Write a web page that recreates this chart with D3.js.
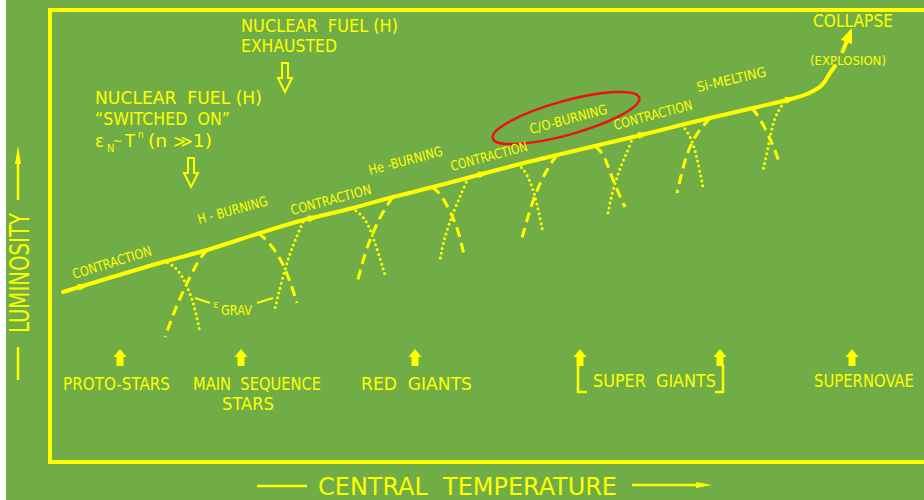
<!DOCTYPE html>
<html>
<head>
<meta charset="utf-8">
<script src="https://cdn.jsdelivr.net/npm/d3@7"></script>
<style>
  html, body { margin: 0; padding: 0; background: #fff; }
  svg { display: block; }
  text { font-family: "DejaVu Sans Condensed", "DejaVu Sans", sans-serif; fill: #ffff00; white-space: pre; }
</style>
</head>
<body>
<div id="chart"></div>
<script>
// diagram units: t = central temperature (left -> right), L = luminosity (bottom -> top)
const mainTrack = [
  [13, 170], [113, 200], [157, 212], [210, 229], [250, 241], [303, 254],
  [343, 265], [383, 275], [417, 284], [470, 298], [507, 307], [547, 316.5],
  [583, 325], [633, 337.5], [660, 344], [703, 354], [737, 362], [757, 368],
  [772, 377], [780, 389], [785, 396]
];
const collapseArrow = [[792, 409], [802, 434]];
const flowArrowsAt = [40, 270, 440, 600, 747];

// energy generation curves hanging below the track
const nuclearCurves = [ // dashed
  [[157, 212], [150, 204], [143, 191], [135, 175], [126, 155], [115, 125]],
  [[208, 229], [217, 222], [227, 209], [235, 194], [242, 175], [247, 159]],
  [[343, 265], [337, 257], [329, 243], [322, 227], [315, 209], [307, 179]],
  [[382, 275], [390, 269], [398, 255], [405, 240], [410, 225], [414, 207]],
  [[507, 307], [499, 296], [491, 281], [483, 262], [477, 242], [472, 224]],
  [[545, 316], [553, 309], [558, 296], [563, 282], [568, 270], [575, 255]],
  [[660, 344], [653, 336], [646, 327], [640, 316], [634, 299], [627, 269]],
  [[702, 354], [709, 345], [716, 332], [722, 319], [726, 309], [730, 297]]
];
const gravCurves = [ // dotted
  [[113, 201], [123, 197], [132, 187], [137, 175], [143, 162], [150, 130]],
  [[253, 240], [246, 224], [239, 206], [232, 182], [225, 154]],
  [[302, 254], [312, 247], [319, 236], [324, 222], [330, 204], [335, 187]],
  [[418, 284], [412, 270], [405, 254], [398, 235], [393, 219], [390, 202]],
  [[468, 298], [476, 290], [482, 276], [487, 259], [493, 229]],
  [[583, 325], [578, 312], [572, 299], [567, 285], [562, 269], [558, 249]],
  [[632, 337], [640, 327], [645, 312], [649, 295], [653, 275]],
  [[734, 360], [728, 351], [723, 339], [720, 325], [717, 309], [713, 292]]
];

const phaseNames = ["CONTRACTION", "H - BURNING", "CONTRACTION", "He -BURNING",
  "CONTRACTION", "C/O-BURNING", "CONTRACTION", "Si-MELTING"];
const stageNames = ["PROTO-STARS", "MAIN  SEQUENCE", "STARS", "RED  GIANTS", "SUPER  GIANTS", "SUPERNOVAE"];
const stageArrowsAt = [70, 191, 365, 530, 670, 802];

// layout of the labels (diagram units), kept apart from the values above
const phaseLayout = [
  { t: 24, L: 183, w: 82, a: -17 }, { t: 149, L: 238, w: 72, a: -15 },
  { t: 242, L: 247, w: 83, a: -15 }, { t: 320, L: 287, w: 76, a: -15 },
  { t: 402, L: 291, w: 79, a: -15 }, { t: 481, L: 328, w: 80, a: -15 },
  { t: 565, L: 332, w: 81, a: -15 }, { t: 648, L: 370, w: 71, a: -13 }
];
const stageLayout = [
  { t: 13, L: 72, w: 107 }, { t: 143, L: 72, w: 128 }, { t: 172, L: 52, w: 52 },
  { t: 311, L: 72, w: 111 }, { t: 543, L: 75, w: 123 }, { t: 764, L: 75, w: 100 }
];

const W = 924, H = 500;
const YELLOW = "#ffff00";
const x = d3.scaleLinear().domain([0, 874]).range([50, 924]);
const y = d3.scaleLinear().domain([0, 452]).range([462, 10]);

const svg = d3.select("#chart").append("svg").attr("width", W).attr("height", H);
svg.append("rect").attr("x", 6).attr("y", 0).attr("width", W - 6).attr("height", H).attr("fill", "#70ad47");

// frame
svg.append("path")
  .attr("d", d3.line()([[x(874), y(452)], [x(0), y(452)], [x(0), y(0)], [x(874), y(0)]]))
  .attr("fill", "none").attr("stroke", YELLOW).attr("stroke-width", 4);

const line = d3.line().x(d => x(d[0])).y(d => y(d[1]));

// evolutionary track
svg.append("path")
  .attr("d", line.curve(d3.curveCatmullRom.alpha(0.5))(mainTrack))
  .attr("fill", "none").attr("stroke", YELLOW).attr("stroke-width", 4).attr("stroke-linecap", "round");

const curveLine = d3.line().x(d => x(d[0])).y(d => y(d[1])).curve(d3.curveBasis);
svg.append("g").selectAll("path").data(nuclearCurves).join("path")
  .attr("d", curveLine).attr("fill", "none").attr("stroke", YELLOW)
  .attr("stroke-width", 3).attr("stroke-dasharray", "10,6");
svg.append("g").selectAll("path").data(gravCurves).join("path")
  .attr("d", curveLine).attr("fill", "none").attr("stroke", YELLOW)
  .attr("stroke-width", 3).attr("stroke-dasharray", "0,5").attr("stroke-linecap", "round");

// track value at t
function trackAt(t) {
  const i = Math.max(1, d3.bisector(d => d[0]).left(mainTrack, t));
  const a = mainTrack[i - 1], b = mainTrack[i];
  const k = (t - a[0]) / (b[0] - a[0]);
  return [t, a[1] + k * (b[1] - a[1]), a, b];
}

function arrowHead(tip, ang, len, half) {
  const c = Math.cos(ang), s = Math.sin(ang);
  return [tip, [tip[0] - len * c - half * s, tip[1] - len * s + half * c],
    [tip[0] - len * c + half * s, tip[1] - len * s - half * c]];
}

// flow arrows along the track
svg.append("g").selectAll("path").data(flowArrowsAt).join("path")
  .attr("d", t => {
    const [tt, L, a, b] = trackAt(t);
    const ang = Math.atan2(y(b[1]) - y(a[1]), x(b[0]) - x(a[0]));
    return d3.line()(arrowHead([x(tt), y(L)], ang, 12, 3.5)) + "Z";
  })
  .attr("fill", YELLOW);

// collapse arrow
{
  const p0 = [x(collapseArrow[0][0]), y(collapseArrow[0][1])];
  const p1 = [x(collapseArrow[1][0]), y(collapseArrow[1][1])];
  const ang = Math.atan2(p1[1] - p0[1], p1[0] - p0[0]);
  svg.append("line").attr("x1", p0[0]).attr("y1", p0[1])
    .attr("x2", p1[0] - 8 * Math.cos(ang)).attr("y2", p1[1] - 8 * Math.sin(ang))
    .attr("stroke", YELLOW).attr("stroke-width", 4);
  svg.append("path").attr("d", d3.line()(arrowHead(p1, ang, 15, 6)) + "Z").attr("fill", YELLOW);
}

// red highlight ellipse around C/O-burning
svg.append("ellipse")
  .attr("transform", `translate(${x(516)},${y(344)}) rotate(-15.5)`)
  .attr("rx", x(592) - x(516)).attr("ry", 17)
  .attr("fill", "none").attr("stroke", "#ee1111").attr("stroke-width", 2.5);

// phase labels along the track
svg.append("g").selectAll("text").data(phaseNames).join("text")
  .attr("transform", (d, i) => `translate(${x(phaseLayout[i].t)},${y(phaseLayout[i].L)}) rotate(${phaseLayout[i].a})`)
  .attr("font-size", 13.5)
  .attr("textLength", (d, i) => phaseLayout[i].w).attr("lengthAdjust", "spacingAndGlyphs")
  .text(d => d);

// epsilon grav
svg.append("text").attr("x", x(163)).attr("y", y(154)).attr("font-size", 11).text("ε");
svg.append("text").attr("x", x(171)).attr("y", y(147)).attr("font-size", 13.5)
  .attr("textLength", 31).attr("lengthAdjust", "spacingAndGlyphs").text("GRAV");
svg.append("g").selectAll("line").data([[[145, 164], [160, 159]], [[207, 159], [223, 164]]]).join("line")
  .attr("x1", d => x(d[0][0])).attr("y1", d => y(d[0][1]))
  .attr("x2", d => x(d[1][0])).attr("y2", d => y(d[1][1]))
  .attr("stroke", YELLOW).attr("stroke-width", 2);

// top annotations
function label(t, L, str, size, w) {
  const el = svg.append("text").attr("x", x(t)).attr("y", y(L)).attr("font-size", size).text(str);
  if (w) el.attr("textLength", w).attr("lengthAdjust", "spacingAndGlyphs");
  return el;
}
label(191, 430, "NUCLEAR  FUEL (H)", 17.5, 157);
label(191, 410, "EXHAUSTED", 17.5, 96);
label(45, 358, "NUCLEAR  FUEL (H)", 17.5, 167);
label(45, 337, "“SWITCHED  ON”", 17.5, 135);
label(45, 315, "ε", 18);
label(57, 310, "N", 11);
label(63, 317, "~", 13);
label(75, 315, "T", 18);
label(88, 324, "n", 10);
label(98, 315, "(n ≫1)", 17, 64);
label(763, 435, "COLLAPSE", 17, 80);
label(760, 397, "(EXPLOSION)", 11.5, 76);

// hollow down arrows
function hollowArrow(t, top, tip) {
  const cx = x(t), y0 = y(top), y1 = y(tip), hh = 14;
  const pts = [[cx - 3, y0], [cx + 3, y0], [cx + 3, y1 - hh], [cx + 7, y1 - hh], [cx, y1],
    [cx - 7, y1 - hh], [cx - 3, y1 - hh]];
  svg.append("path").attr("d", d3.line()(pts) + "Z")
    .attr("fill", "none").attr("stroke", YELLOW).attr("stroke-width", 2);
}
hollowArrow(235, 399, 370);
hollowArrow(141, 304, 275);

// stage arrows and labels
svg.append("g").selectAll("path").data(stageArrowsAt).join("path")
  .attr("d", t => {
    const cx = x(t), tip = y(113), base = y(96);
    return d3.line()([[cx, tip], [cx + 6.5, tip + 8], [cx + 3.5, tip + 8], [cx + 3.5, base],
      [cx - 3.5, base], [cx - 3.5, tip + 8], [cx - 6.5, tip + 8]]) + "Z";
  })
  .attr("fill", YELLOW);

svg.append("g").selectAll("text").data(stageNames).join("text")
  .attr("x", (d, i) => x(stageLayout[i].t)).attr("y", (d, i) => y(stageLayout[i].L))
  .attr("font-size", 18)
  .attr("textLength", (d, i) => stageLayout[i].w).attr("lengthAdjust", "spacingAndGlyphs")
  .text(d => d);

// super giants bracket
svg.append("g").selectAll("path")
  .data([[[537, 70], [528, 70], [528, 97]], [[665, 70], [673, 70], [673, 97]]]).join("path")
  .attr("d", line.curve(d3.curveLinear))
  .attr("fill", "none").attr("stroke", YELLOW).attr("stroke-width", 2.5);

// axis titles
svg.append("text").attr("x", 318).attr("y", 495).attr("font-size", 25)
  .attr("textLength", 299).attr("lengthAdjust", "spacingAndGlyphs").text("CENTRAL  TEMPERATURE");
svg.append("line").attr("x1", 257).attr("x2", 307).attr("y1", 486).attr("y2", 486)
  .attr("stroke", YELLOW).attr("stroke-width", 2.5);
svg.append("line").attr("x1", 632).attr("x2", 700).attr("y1", 485).attr("y2", 485)
  .attr("stroke", YELLOW).attr("stroke-width", 2.5);
svg.append("path").attr("d", d3.line()(arrowHead([712, 485], 0, 16, 3)) + "Z").attr("fill", YELLOW);

svg.append("text").attr("transform", "translate(29,333) rotate(-90)").attr("font-size", 26)
  .attr("textLength", 120).attr("lengthAdjust", "spacingAndGlyphs").text("LUMINOSITY");
svg.append("line").attr("x1", 18).attr("x2", 18).attr("y1", 347).attr("y2", 380)
  .attr("stroke", YELLOW).attr("stroke-width", 2.5);
svg.append("line").attr("x1", 18).attr("x2", 18).attr("y1", 200).attr("y2", 158)
  .attr("stroke", YELLOW).attr("stroke-width", 2.5);
svg.append("path").attr("d", d3.line()(arrowHead([18, 146], -Math.PI / 2, 18, 3)) + "Z").attr("fill", YELLOW);
</script>
</body>
</html>
